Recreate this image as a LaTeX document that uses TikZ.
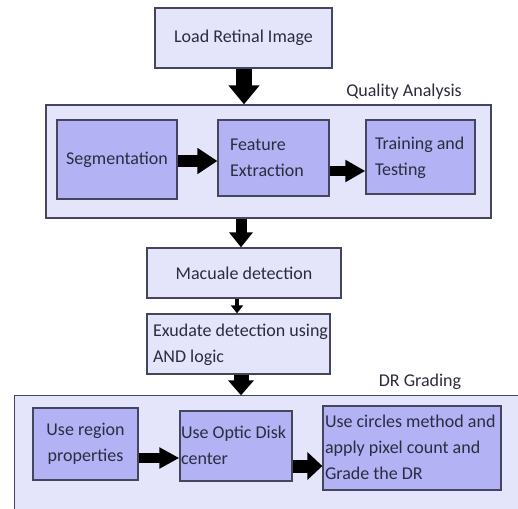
\documentclass[tikz,border=0pt]{standalone}
\usepackage{fontspec}
\setmainfont{Carlito}
\usetikzlibrary{arrows.meta}
\definecolor{outerfill}{HTML}{E4E4FA}
\definecolor{innerfill}{HTML}{B2B2F4}
\definecolor{edgecol}{HTML}{45455E}
\definecolor{txtcol}{HTML}{2C2C40}
\newcommand{\leftlines}[2]{\makebox[#1][l]{\begin{tabular}[c]{@{}l@{}}#2\end{tabular}}}
\tikzset{
  plainbox/.style={draw=edgecol, line width=1.3pt, fill=outerfill, text=txtcol,
    font=\fontsize{18}{26}\selectfont, inner sep=0pt, anchor=center},
  innerbox/.style={plainbox, fill=innerfill},
  groupbox/.style={fill=outerfill, draw=edgecol, line width=1.3pt, inner sep=0pt, anchor=center},
  grouplabel/.style={text=txtcol, font=\fontsize{18}{26}\selectfont, inner sep=0pt, anchor=center},
}
\begin{document}
\begin{tikzpicture}[x=1pt,y=-1pt]
\clip (0,0) rectangle (518,508);
\fill[white] (0,0) rectangle (518,508);

% top box
\node[plainbox, minimum width=177pt, minimum height=60pt] (load) at (243.5,38) {Load Retinal Image};

% Quality analysis group
\node[groupbox, minimum width=445pt, minimum height=113pt] (qa) at (268.5,161.5) {};
\node[grouplabel] (qalabel) at (404,92) {Quality Analysis};
\node[innerbox, minimum width=120pt, minimum height=79pt] (seg) at (117,159.5) {Segmentation};
\node[innerbox, minimum height=76pt, inner xsep=12pt] (fe) at (273.5,158) {\leftlines{87pt}{Feature\\Extraction}};
\node[innerbox, minimum height=74pt, inner xsep=9pt] (tt) at (420.5,157) {\leftlines{91pt}{Training and\\Testing}};

% middle boxes
\node[plainbox, minimum width=194pt, minimum height=50pt] (mac) at (244,273) {Macuale detection};
\node[plainbox, minimum height=60pt, inner xsep=6pt] (exu) at (238.5,344) {\leftlines{171pt}{Exudate detection using\\AND logic}};

% DR grading group (cut off at right and bottom)
\node[groupbox, draw=none, minimum width=515pt, minimum height=134pt] (dr) at (272.5,463) {};
\draw[draw=edgecol, line width=1.3pt] (dr.south west) -- (dr.north west) -- (dr.north east);
\node[grouplabel] (drlabel) at (420,382) {DR Grading};
\node[innerbox, minimum width=105pt, minimum height=72pt, align=center] (ur) at (85.5,444) {Use region\\properties};
\node[innerbox, minimum height=70pt, inner xsep=1pt] (od) at (236,446) {\leftlines{110pt}{Use Optic Disk\\center}};
\node[innerbox, minimum height=84pt, inner xsep=2pt] (cm) at (412,448) {\leftlines{174pt}{Use circles method and\\apply pixel count and\\Grade the DR}};

% connectors
\coordinate (a1) at (244,0);
\draw[line width=16pt, -{Triangle[length=19pt,width=30pt]}] (load.south -| a1) -- (qa.north -| a1);

\draw[line width=12pt, -{Triangle[length=20pt,width=25pt]}] (seg.east |- 0,161) -- (fe.west |- 0,161);
\draw[line width=10pt, -{Triangle[length=20pt,width=21pt]}] (fe.east |- 0,171) -- (tt.west |- 0,171);

\coordinate (a2) at (241,0);
\draw[line width=11pt, -{Triangle[length=15pt,width=23pt]}] (qa.south -| a2) -- (mac.north -| a2);

\coordinate (a3) at (237,0);
\draw[line width=3.5pt, -{Triangle[length=8pt,width=12pt]}] (mac.south -| a3) -- (exu.north -| a3);

\coordinate (a4) at (241,0);
\draw[line width=15pt, -{Triangle[length=15pt,width=25pt]}] (exu.south -| a4) -- (dr.north -| a4);

\draw[line width=10pt, -{Triangle[length=20pt,width=20pt]}] (ur.east |- 0,458) -- (od.west |- 0,458);
\draw[line width=13pt, -{Triangle[length=15pt,width=27pt]}] (od.east |- 0,466) -- (cm.west |- 0,466);
\end{tikzpicture}
\end{document}
